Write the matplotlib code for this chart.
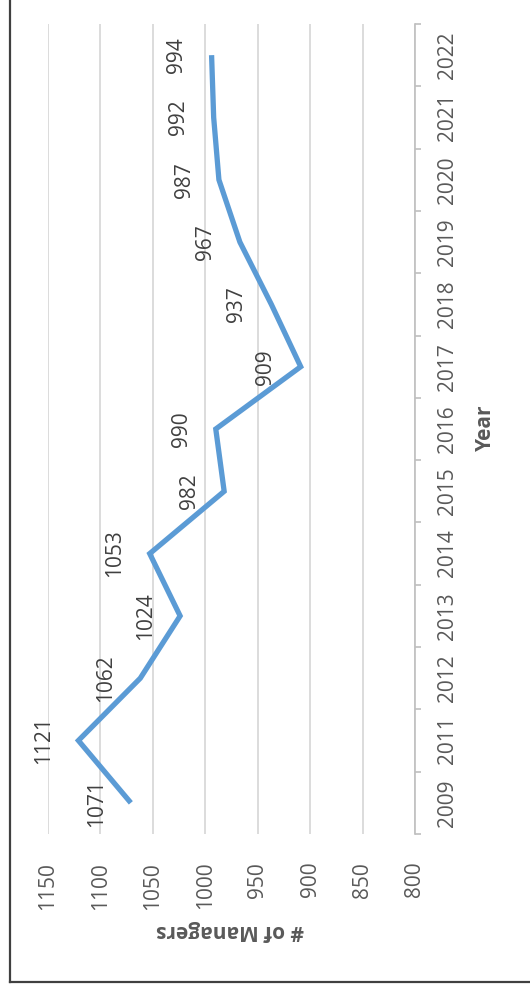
import matplotlib.pyplot as plt
from matplotlib.lines import Line2D

years = ['2009', '2011', '2012', '2013', '2014', '2015', '2016',
         '2017', '2018', '2019', '2020', '2021', '2022']
managers = [1071, 1121, 1062, 1024, 1053, 982, 990, 909, 937, 967, 987, 992, 994]
value_ticks = [1150, 1100, 1050, 1000, 950, 900, 850, 800]

plt.rcParams['font.family'] = ['Open Sans', 'DejaVu Sans']

W, H = 530, 994
fig = plt.figure(figsize=(W / 100, H / 100), dpi=100)
fig.patch.set_facecolor('white')

# chart is laid on its side: values run right-to-left, years bottom-to-top
ax = fig.add_axes([48 / W, 1 - 834 / H, (415 - 48) / W, (834 - 24) / H])
pos = list(range(len(years)))

ax.plot(managers, pos, color='#5B9BD5', lw=3.8, solid_joinstyle='miter',
        solid_capstyle='butt', zorder=3)

for v, p in zip(managers, pos):
    ax.annotate(str(v), (v, p), xytext=(-25, 0), textcoords='offset points',
                rotation=90, ha='center', va='center', fontsize=15,
                color='#404040', zorder=4)

ax.set_xlim(1150, 800)
ax.set_ylim(-0.5, len(years) - 0.5)

ax.set_xticks(value_ticks)
ax.set_xticklabels([str(t) for t in value_ticks], rotation=90, fontsize=15,
                   color='#595959')
ax.tick_params(axis='x', length=0, pad=20)
ax.grid(axis='x', color='#D9D9D9', lw=1.3)
ax.set_axisbelow(True)

ax.yaxis.tick_right()
ax.set_yticks(pos)
ax.set_yticklabels(years, rotation=90, va='center', fontsize=15, color='#595959')
ax.tick_params(axis='y', which='major', length=0, pad=16)
ax.set_yticks([p + 0.5 for p in [-1] + pos], minor=True)
ax.tick_params(axis='y', which='minor', length=4, color='#BFBFBF', width=1.2,
               right=True, left=False)

for s in ['top', 'bottom', 'left']:
    ax.spines[s].set_visible(False)
ax.spines['right'].set_color('#BFBFBF')
ax.spines['right'].set_linewidth(1.2)

fig.text(485 / W, 1 - 428 / H, 'Year', rotation=90, ha='center', va='center',
         fontsize=15, fontweight='bold', color='#595959')
fig.text(230 / W, 1 - 930 / H, '# of Managers', rotation=180, ha='center',
         va='center', fontsize=15, fontweight='bold', color='#595959')

# outer frame: left and bottom edges
fig.add_artist(Line2D([10 / W, 10 / W], [1 - 982 / H, 1.0],
                      transform=fig.transFigure, color='#404040', lw=1.6))
fig.add_artist(Line2D([10 / W, 1.0], [1 - 982 / H, 1 - 982 / H],
                      transform=fig.transFigure, color='#404040', lw=1.6))

fig.savefig('out.png', dpi=100)
